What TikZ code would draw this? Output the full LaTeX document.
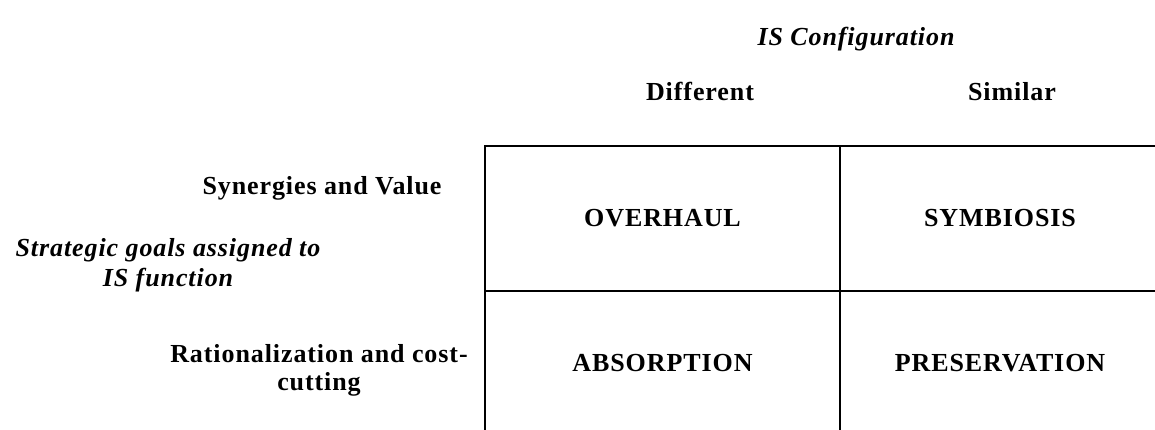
\documentclass[tikz,border=0pt]{standalone}
\usepackage{fontspec}
\setmainfont{Liberation Serif}[LetterSpace=3.5]
\begin{document}
\begin{tikzpicture}[x=1pt,y=-1pt,
  lbl/.style={font=\fontsize{26}{30}\selectfont\bfseries, inner sep=0pt},
  ilbl/.style={font=\fontsize{26}{30}\selectfont\bfseries\itshape, inner sep=0pt},
  cell/.style={draw=black, line width=2pt, rectangle, inner sep=0pt,
    font=\fontsize{26}{30}\selectfont\bfseries}]
\useasboundingbox (0,0) rectangle (1155,430);
\fill[white] (0,0) rectangle (1155,430);
\clip (0,0) rectangle (1155,430);
% matrix cells
\node[cell, minimum width=355pt, minimum height=145pt] (overhaul) at (662.5,218.5) {OVERHAUL};
\node[cell, minimum width=320pt, minimum height=145pt] (symbiosis) at (1000,218.5) {SYMBIOSIS};
\node[cell, minimum width=355pt, minimum height=145pt] (absorption) at (662.5,363.5) {ABSORPTION};
\node[cell, minimum width=320pt, minimum height=145pt] (preservation) at (1000,363.5) {PRESERVATION};
% headers
\node[ilbl, anchor=base] (isconf) at (856,46) {IS Configuration};
\node[lbl, anchor=base] (diff) at (700,101) {Different};
\node[lbl, anchor=base] (sim) at (1012,101) {Similar};
% row labels
\node[lbl, anchor=base] (syn) at (322,195) {Synergies and Value};
\node[ilbl, align=center, font=\fontsize{26}{30}\selectfont\bfseries\itshape] (goals) at (168,265) {Strategic goals assigned to\\IS function};
\node[lbl, align=center, font=\fontsize{26}{28}\selectfont\bfseries] (rat) at (319,370) {Rationalization and cost-\\cutting};
\end{tikzpicture}
\end{document}
